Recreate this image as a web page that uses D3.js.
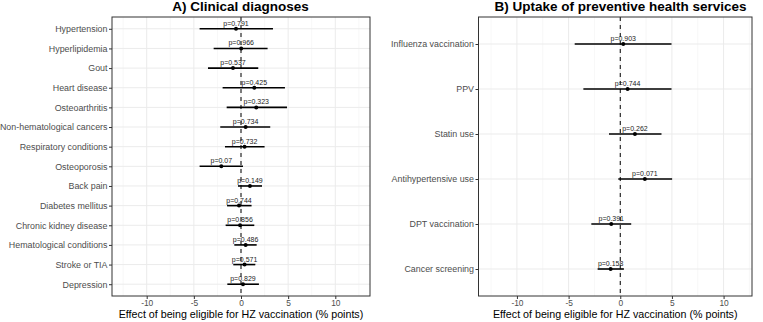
<!DOCTYPE html>
<html>
<head>
<meta charset="utf-8">
<script src="https://cdn.jsdelivr.net/npm/d3@7"></script>
<style>
  body { margin: 0; background: #fff; }
  svg { font-family: "Liberation Sans", Arial, sans-serif; }
</style>
</head>
<body>
<div id="chart"></div>
<script>
// A) clinical diagnoses
var clinicalLabels = ["Hypertension", "Hyperlipidemia", "Gout", "Heart disease", "Osteoarthritis",
  "Non-hematological cancers", "Respiratory conditions", "Osteoporosis", "Back pain",
  "Diabetes mellitus", "Chronic kidney disease", "Hematological conditions", "Stroke or TIA", "Depression"];
var clinicalEst = [-0.53, 0.02, -0.85, 1.41, 1.62, 0.49, 0.38, -2.09, 0.95, -0.21, -0.1, 0.49, 0.38, 0.21];
var clinicalLow = [-4.39, -2.9, -3.5, -1.95, -1.52, -2.2, -1.7, -4.39, -0.32, -1.48, -1.63, -0.71, -0.82, -1.45];
var clinicalHigh = [3.39, 2.82, 1.83, 4.66, 4.88, 3.1, 2.5, 0.21, 2.23, 1.12, 1.41, 1.66, 1.52, 1.9];
var clinicalP = ["0.791", "0.966", "0.537", "0.425", "0.323", "0.734", "0.732", "0.07", "0.149",
  "0.744", "0.856", "0.486", "0.571", "0.829"];

// B) preventive health services
var serviceLabels = ["Influenza vaccination", "PPV", "Statin use", "Antihypertensive use", "DPT vaccination", "Cancer screening"];
var serviceEst = [0.29, 0.71, 1.42, 2.38, -0.87, -0.93];
var serviceLow = [-4.41, -3.57, -1.09, -0.19, -2.8, -2.19];
var serviceHigh = [4.96, 4.96, 3.99, 5.02, 1.06, 0.35];
var serviceP = ["0.903", "0.744", "0.262", "0.071", "0.391", "0.158"];

var xTicks = [-10, -5, 0, 5, 10];
var xMinor = [-12.5, -7.5, -2.5, 2.5, 7.5, 12.5];
var xTitle = "Effect of being eligible for HZ vaccination (% points)";

var width = 763, height = 322;
var svg = d3.select("#chart").append("svg")
  .attr("width", width).attr("height", height);

function panel(opt) {
  var rows = opt.labels.map(function (d, i) {
    return { label: d, est: opt.est[i], lo: opt.lo[i], hi: opt.hi[i], p: opt.p[i] };
  });
  var x = d3.scaleLinear().domain(opt.domain).range([opt.left, opt.right]);
  var y = d3.scalePoint().domain(opt.labels).range([opt.top, opt.bottom]).padding(0.6);
  var g = svg.append("g");

  // grid
  g.selectAll(".minor").data(xMinor.filter(function (d) { return d > opt.domain[0] && d < opt.domain[1]; }))
    .enter().append("line")
    .attr("x1", x).attr("x2", x).attr("y1", opt.top).attr("y2", opt.bottom)
    .attr("stroke", "#f2f2f2").attr("stroke-width", 0.6);
  g.selectAll(".major").data(xTicks).enter().append("line")
    .attr("x1", x).attr("x2", x).attr("y1", opt.top).attr("y2", opt.bottom)
    .attr("stroke", "#ebebeb").attr("stroke-width", 1);
  g.selectAll(".hgrid").data(opt.labels).enter().append("line")
    .attr("x1", opt.left).attr("x2", opt.right)
    .attr("y1", function (d) { return y(d); }).attr("y2", function (d) { return y(d); })
    .attr("stroke", "#ebebeb").attr("stroke-width", 1);

  // reference line at 0
  g.append("line")
    .attr("x1", x(0)).attr("x2", x(0)).attr("y1", opt.top).attr("y2", opt.bottom)
    .attr("stroke", "#000").attr("stroke-width", 1).attr("stroke-dasharray", "4,4");

  // error bars + points
  g.selectAll(".ci").data(rows).enter().append("line")
    .attr("x1", function (d) { return x(d.lo); })
    .attr("x2", function (d) { return x(d.hi); })
    .attr("y1", function (d) { return y(d.label); })
    .attr("y2", function (d) { return y(d.label); })
    .attr("stroke", "#000").attr("stroke-width", 1.6);
  g.selectAll(".pt").data(rows).enter().append("circle")
    .attr("cx", function (d) { return x(d.est); })
    .attr("cy", function (d) { return y(d.label); })
    .attr("r", 2).attr("fill", "#000");
  g.selectAll(".pv").data(rows).enter().append("text")
    .attr("x", function (d) { return x(d.est); })
    .attr("y", function (d) { return y(d.label) - 3; })
    .attr("text-anchor", "middle")
    .style("font-size", "7px").attr("fill", "#222")
    .text(function (d) { return "p=" + d.p; });

  // border
  g.append("rect")
    .attr("x", opt.left).attr("y", opt.top)
    .attr("width", opt.right - opt.left).attr("height", opt.bottom - opt.top)
    .attr("fill", "none").attr("stroke", "#333").attr("stroke-width", 1);

  // axes
  var ax = g.append("g").attr("transform", "translate(0," + opt.bottom + ")")
    .call(d3.axisBottom(x).tickValues(xTicks).tickSize(3).tickPadding(1).tickFormat(d3.format("d")));
  var ay = g.append("g").attr("transform", "translate(" + opt.left + ",0)")
    .call(d3.axisLeft(y).tickSize(3).tickPadding(1.5));
  [ax, ay].forEach(function (a) {
    a.select(".domain").remove();
    a.selectAll(".tick line").attr("stroke", "#333");
    a.selectAll("text").attr("fill", "#4d4d4d")
      .style("font-family", '"Liberation Sans", Arial, sans-serif');
  });
  ax.selectAll("text").style("font-size", "8.4px")
    .text(function (d) { return d < 0 ? "-" + Math.abs(d) : d; });
  ay.selectAll("text").style("font-size", "8.9px");

  g.append("text")
    .attr("x", (opt.left + opt.right) / 2).attr("y", 318)
    .attr("text-anchor", "middle").style("font-size", "10.7px").attr("fill", "#000")
    .text(xTitle);
  g.append("text")
    .attr("x", opt.titleX).attr("y", 11)
    .attr("text-anchor", "middle").style("font-size", "13.5px").style("font-weight", "bold")
    .attr("fill", "#000")
    .text(opt.title);
}

panel({
  labels: clinicalLabels, est: clinicalEst, lo: clinicalLow, hi: clinicalHigh, p: clinicalP,
  domain: [-13.68, 13.68], left: 112, right: 370, top: 17, bottom: 296,
  title: "A) Clinical diagnoses", titleX: 240.5
});
panel({
  labels: serviceLabels, est: serviceEst, lo: serviceLow, hi: serviceHigh, p: serviceP,
  domain: [-13.72, 12.75], left: 478.5, right: 752, top: 17, bottom: 296,
  title: "B) Uptake of preventive health services", titleX: 620.5
});
</script>
</body>
</html>
